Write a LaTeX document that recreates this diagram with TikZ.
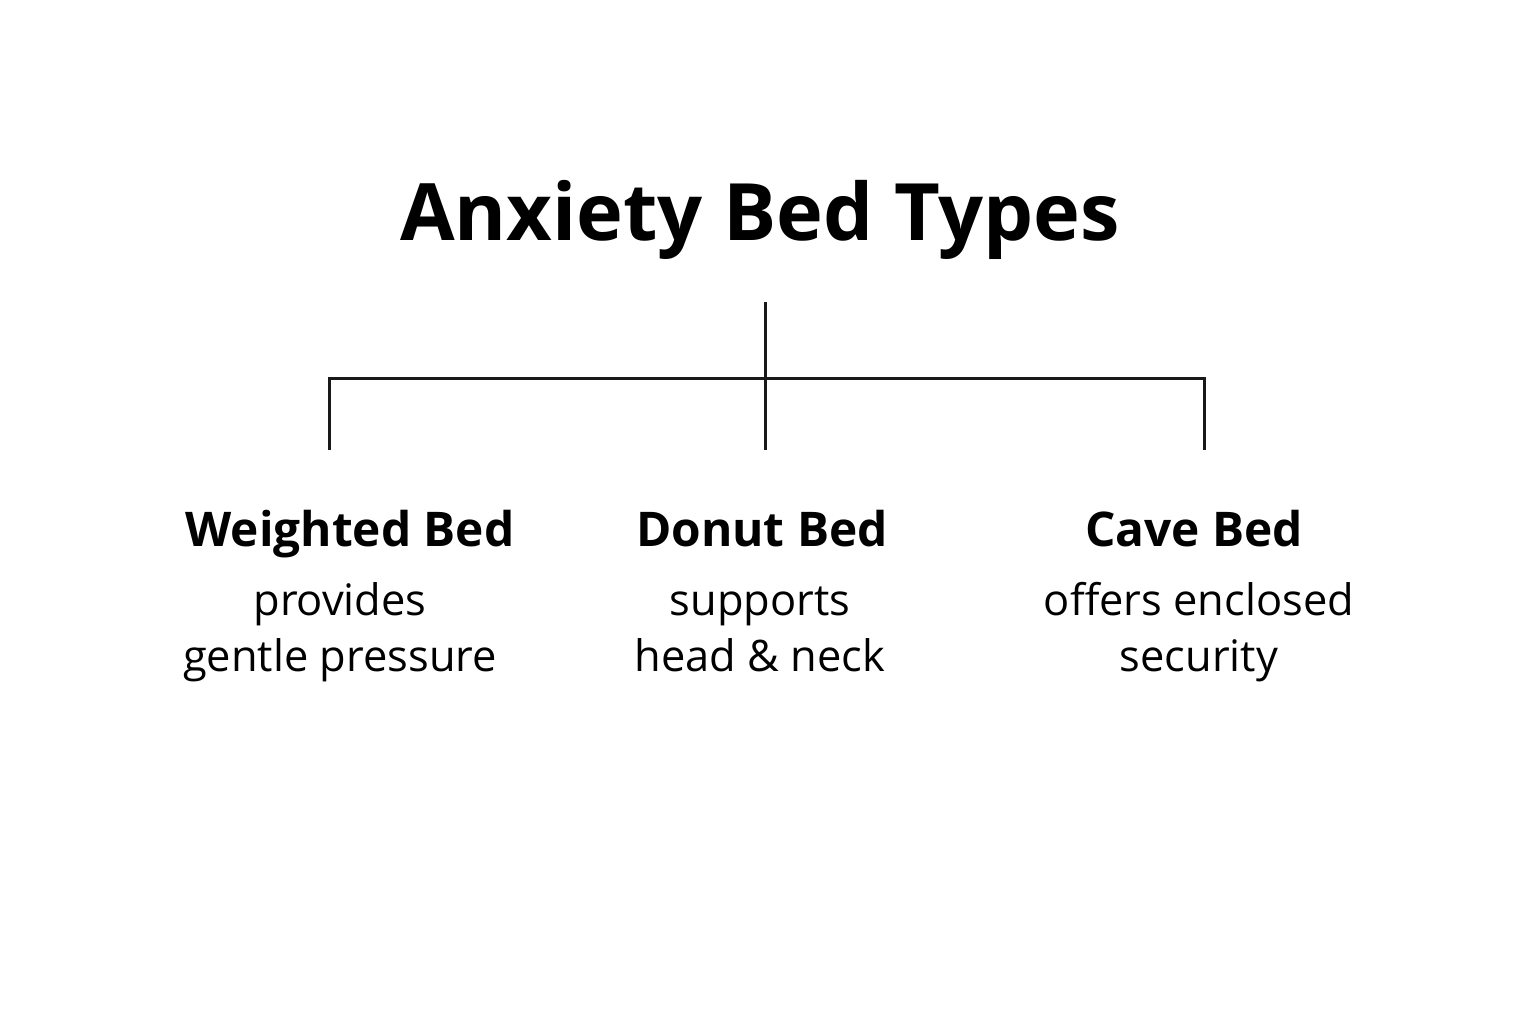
\documentclass[tikz,border=0pt]{standalone}
\usepackage{fontspec}
\setmainfont{Open Sans}
\usetikzlibrary{positioning}

\begin{document}
\begin{tikzpicture}[
  x=0.5pt, y=-0.5pt,
  maintitle/.style={font=\fontsize{39.6}{48}\selectfont\bfseries, inner sep=0pt, anchor=base},
  bedname/.style={font=\fontsize{23.9}{30}\selectfont\bfseries, inner sep=0pt, anchor=base},
  bednote/.style={font=\fontsize{21.7}{28}\selectfont, align=center, inner sep=0pt, anchor=north},
  branch/.style={line width=1.5pt, black!90},
]
  \useasboundingbox[fill=white] (0,0) rectangle (1536,1024);

  \node[maintitle] (title) at (760,240) {Anxiety Bed Types};

  % tree lines
  \coordinate (top) at (765,302);
  \coordinate (hub) at (765,378);
  \coordinate (lend) at (329,450);
  \coordinate (mend) at (765,450);
  \coordinate (rend) at (1204,450);
  \draw[branch] (top) -- (mend);
  \draw[branch] (lend) |- (hub) -| (rend);

  \node[bedname] (weighted) at (350,546) {Weighted Bed};
  \node[bedname] (donut) at (762,546) {Donut Bed};
  \node[bedname] (cave) at (1194,546) {Cave Bed};

  \node[bednote] (weightednote) at (340,576) {\strut provides\\gentle pressure};
  \node[bednote] (donutnote) at (760,576) {\strut supports\\head \& neck};
  \node[bednote] (cavenote) at (1199,576) {\strut offers enclosed\\security};
\end{tikzpicture}
\end{document}
